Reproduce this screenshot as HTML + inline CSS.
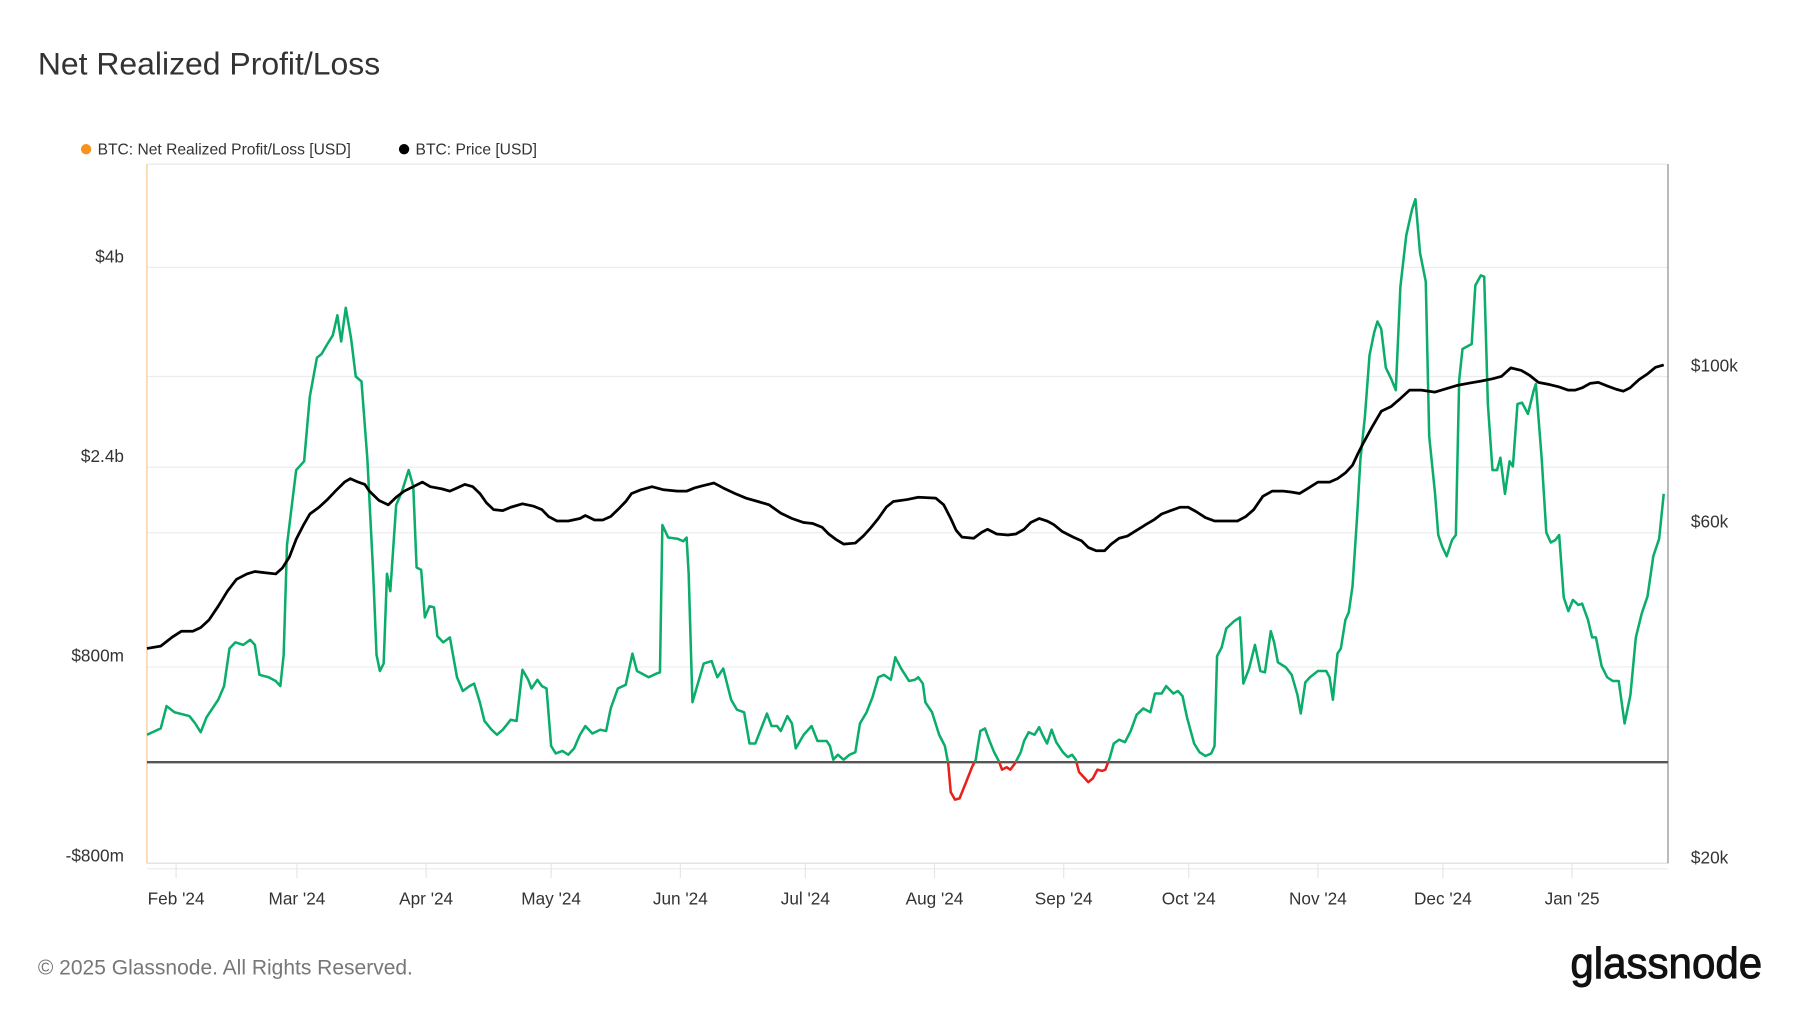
<!DOCTYPE html>
<html><head><meta charset="utf-8">
<style>
html,body{margin:0;padding:0;background:#fff;}
svg{display:block;font-family:"Liberation Sans",sans-serif;}
</style></head>
<body>
<svg id="chart" width="1800" height="1013" viewBox="0 0 1568 882.5" preserveAspectRatio="none" xmlns="http://www.w3.org/2000/svg">
<rect x="0" y="0" width="1568" height="883" fill="#fff"/>
<text x="33" y="65" font-size="27.8" fill="#333">Net Realized Profit/Loss</text>
<g>
 <circle cx="75" cy="130" r="4.5" fill="#f7931a"/>
 <text x="85" y="134.5" font-size="13.6" fill="#333">BTC: Net Realized Profit/Loss [USD]</text>
 <circle cx="352" cy="130" r="4.5" fill="#000"/>
 <text x="362" y="134.5" font-size="13.6" fill="#333">BTC: Price [USD]</text>
</g>
<g id="grid"></g>
<g id="axes"></g>
<g id="series"></g>
<text x="33" y="849" font-size="18.3" fill="#777">© 2025 Glassnode. All Rights Reserved.</text>
<text x="1368" y="852" font-size="38" font-weight="normal" fill="#111" stroke="#111" stroke-width="0.8" textLength="167" lengthAdjust="spacingAndGlyphs">glassnode</text>
</svg>
<script>
// ---- data ----
const nrplDays = [0,3.3,4.7,6.6,10.2,11.6,12.9,14.3,17.1,18.5,19.8,21.2,23.1,24.8,25.9,27,29.2,30.9,32,32.8,33.6,35.8,37.7,39.1,40.8,41.9,43.3,44.6,45.7,46.6,47.7,49,50.1,51.5,52.9,54.3,55.1,55.9,56.8,57.6,58.4,59.8,61.2,62.8,63.9,64.7,65.8,66.7,67.8,68.9,69.7,71.1,72.7,74.4,75.8,77.4,78.5,79.9,81,82.7,84,85.4,87.3,88.7,90.1,91.5,92.3,93.7,94.8,95.9,97,98.1,99.7,101.1,102.5,103.9,105.2,106.9,108.8,110.2,111.3,113,114.9,116.5,117.6,120.4,122.3,123.1,123.7,125.1,127.3,128.7,129.5,130,130.9,132.2,133.6,135.5,136.9,138.3,140.2,141.6,143.3,144.6,146,148.8,149.9,151.2,152.1,153.7,154.8,155.7,157.6,159.5,160.9,163.1,163.9,164.7,165.8,167.2,168.6,170,171.1,172.7,174.1,175.5,176.9,178.5,179.6,181,182.9,184.3,185.1,186.2,186.8,188.4,190.1,191.5,192.3,192.9,193.9,195,196.7,198,198.9,199.4,200,201.1,202.2,203.3,204.4,205.2,206.3,207.2,208.3,209.7,210.5,211.6,213,214.1,214.9,216,217.1,218.2,219.8,221,222,222.9,223.7,225.1,225.9,227,228.1,229.2,230,231.1,232,233.3,234.7,236.1,237.5,239.1,240.8,241.9,243.5,244.6,246.3,247.4,248.5,249.6,251.3,252.6,254,255.4,256.2,256.8,257.9,259,260.9,262.3,263.1,264.5,265.9,267.2,268.3,269.7,270.5,271.4,273.3,274.7,276.1,276.9,278,279.1,281,283,283.8,284.6,285.7,286.5,287.6,288.4,289.3,290.4,291.2,292.3,293.4,294.5,295.3,296.2,297.3,298.6,299.7,300.8,302.2,303.6,304.4,305.5,306.9,307.7,309.1,309.9,310.8,311.9,313.2,314.1,314.9,315.7,316.8,317.9,318.8,320.1,320.9,321.8,322.9,324,324.8,325.9,327,327.8,328.9,330,331.4,332.8,333.3,334.7,335.8,336.9,338,338.9,340,341.1,342.2,343.5,344.4,345.8,346.8,347.7,349.1,350.4,351.8,353.2,354.6,356,357.3,358.7,360.1,361.5,362.9,364];
const nrplValuesB = [.22,.27,.45,.40,.37,.31,.24,.36,.50,.61,.91,.96,.94,.98,.94,.70,.68,.65,.61,.86,1.74,2.34,2.41,2.93,3.24,3.27,3.35,3.42,3.58,3.37,3.64,3.39,3.09,3.05,2.43,1.51,.86,.73,.79,1.51,1.37,2.06,2.17,2.34,2.21,1.56,1.54,1.16,1.25,1.24,1.01,.96,1.00,.68,.57,.61,.63,.48,.33,.26,.22,.26,.34,.33,.74,.66,.59,.66,.61,.59,.13,.07,.09,.06,.11,.22,.29,.23,.26,.25,.43,.59,.62,.87,.73,.68,.71,.72,1.90,1.80,1.79,1.77,1.80,1.51,.48,.63,.79,.81,.68,.75,.50,.42,.40,.15,.15,.39,.29,.29,.25,.37,.31,.11,.22,.29,.17,.17,.13,.02,.06,.02,.06,.08,.31,.40,.52,.68,.70,.66,.84,.75,.65,.66,.68,.63,.48,.40,.22,.13,-.01,-.24,-.30,-.29,-.15,-.04,.02,.13,.25,.27,.17,.08,.01,-.06,-.04,-.06,-.01,.08,.17,.24,.22,.28,.22,.15,.26,.16,.08,.04,.06,.02,-.08,-.13,-.16,-.13,-.06,-.07,-.06,.04,.15,.18,.16,.25,.38,.43,.40,.55,.55,.61,.55,.57,.53,.36,.15,.08,.05,.07,.13,.85,.92,1.07,1.13,1.16,.63,.75,.94,.73,.72,1.05,.96,.80,.76,.70,.54,.39,.64,.68,.73,.73,.68,.50,.87,.91,1.14,1.20,1.41,1.97,2.43,2.77,3.26,3.44,3.53,3.47,3.16,3.07,2.98,3.81,4.22,4.43,4.51,4.08,3.85,2.61,2.16,1.82,1.73,1.65,1.78,1.82,3.06,3.31,3.33,3.35,3.82,3.90,3.89,2.87,2.34,2.34,2.44,2.15,2.41,2.37,2.87,2.88,2.79,2.98,3.03,2.43,1.84,1.76,1.78,1.82,1.32,1.21,1.30,1.26,1.27,1.14,1.00,1.00,.77,.68,.65,.65,.31,.54,1.00,1.19,1.33,1.65,1.79,2.15];
const priceDays = [0,3.3,6.1,8.3,11,12.9,14.9,17.1,19.3,21.5,24,25.9,28.1,30.9,32.5,34.2,35.8,37.5,39.1,41.3,43.3,45.2,47.4,48.8,50.7,52.3,53.4,55.7,57.9,59.8,61.7,63.9,66.1,68,70.8,72.7,74.4,76.3,78.2,79.9,81.5,83.2,85.4,87.3,90.1,92.8,94.8,96.4,98.4,101.1,103.9,105.2,107.4,109.4,111.3,113,114.9,116.3,118.5,121.2,124,127.3,129.5,131.4,133.3,136.1,138.3,141.1,143.8,146.6,149.3,152.1,154.8,157.6,159.8,162,163.6,165.3,167.2,170,171.9,173.6,175.5,177.4,179.1,182.4,185.1,189.3,191.2,192.9,194.2,195.6,198.4,200.3,201.7,203.9,206.6,208.5,210.5,212.1,214.1,216,217.6,219.6,222.3,224.3,225.9,227.8,229.8,231.4,233.3,235.3,237.5,239.7,241.6,243.5,245.7,247.9,249.9,251.8,254,256.2,259,261.7,263.7,265.6,267.8,270,272.7,274.7,276.6,278.8,281,283.8,285.7,287.6,289.3,290.6,292,293.9,296.2,298.6,300.8,303,305.8,309.1,311.9,314.6,317.4,320.1,322.9,325.1,327.3,329.8,331.7,333.9,336.7,338.9,341.1,342.7,344.4,346.3,348.3,350.4,352.6,354.3,355.9,358.1,360.1,362,364];
const priceK = [39.9,40.2,41.4,42.2,42.2,42.7,43.8,45.8,48.1,50.0,50.9,51.3,51.1,50.9,51.9,53.8,57.0,59.6,61.9,63.3,64.9,66.7,68.7,69.5,68.7,68.2,66.7,64.7,63.8,65.4,66.7,67.7,68.7,67.7,67.2,66.7,67.4,68.2,67.7,66.2,64.2,62.8,62.6,63.3,64.0,63.5,62.8,61.4,60.5,60.5,61.0,61.6,60.7,60.7,61.4,62.8,64.5,66.2,67.0,67.7,67.0,66.7,66.7,67.4,67.9,68.5,67.4,66.2,65.2,64.5,63.8,62.1,61.0,60.2,60.0,59.3,58.0,57.0,56.1,56.3,57.6,59.1,61.0,63.3,64.5,64.9,65.4,65.2,63.8,61.0,58.7,57.4,57.2,58.3,58.9,58.0,57.8,58.0,58.9,60.2,61.0,60.5,59.8,58.5,57.4,56.7,55.5,54.9,54.9,56.1,57.2,57.6,58.7,59.8,60.7,61.9,62.6,63.3,63.3,62.4,61.2,60.5,60.5,60.5,61.4,62.8,65.6,66.7,66.7,66.5,66.2,67.4,68.7,68.7,69.5,70.8,72.6,75.4,78.3,82.1,86.6,88.0,90.3,92.8,92.8,92.2,93.3,94.3,95.0,95.6,96.3,97.1,99.8,99.0,97.5,95.2,94.5,93.8,92.8,92.8,93.5,94.9,95.2,94.1,93.1,92.5,93.5,96.1,97.9,100.0,100.8];
const leftTickValuesB = [4, 2.4, 0.8, -0.8];
const leftTickLabels = ["$4b", "$2.4b", "$800m", "-$800m"];
const rightTickValuesK = [100, 60, 20];
const rightTickLabels = ["$100k", "$60k", "$20k"];
const monthLabels = ["Feb '24","Mar '24","Apr '24","May '24","Jun '24","Jul '24","Aug '24","Sep '24","Oct '24","Nov '24","Dec '24","Jan '25"];
const monthStartDays = [7,36,67,97,128,158,189,220,250,281,311,342];

// ---- layout / scales ----
const NS = "http://www.w3.org/2000/svg";
const L = 128, R = 1453, T = 143, B = 752;
const X0 = 128, PXD = 3.63;
const ZERO = 664, PXB = 108.75;
const x = d => X0 + d * PXD;
const yL = v => ZERO - v * PXB;
const yR = k => 320 - 266.5 * Math.log(k / 100);
function mk(tag, attrs, parent) {
  const e = document.createElementNS(NS, tag);
  for (const k in attrs) e.setAttribute(k, attrs[k]);
  parent.appendChild(e);
  return e;
}
const svg = document.getElementById('chart');
const grid = document.getElementById('grid');
const axes = document.getElementById('axes');
const series = document.getElementById('series');

leftTickValuesB.forEach((v, i) => {
  const yy = yL(v) + 4;
  if (yy < B - 2) {
    const g = mk('line', {x1: L, x2: R, y1: yy, y2: yy, stroke: '#ececec', 'stroke-width': 1}, grid);
    
    
  }
  const t = mk('text', {x: 108, y: yL(v) - 0.5, 'font-size': 15, fill: '#333', 'text-anchor': 'end'}, axes);
  t.textContent = leftTickLabels[i];
  
  
});
rightTickValuesK.forEach((k, i) => {
  const yy = yR(k);
  if (yy < B - 2) {
    const g = mk('line', {x1: L, x2: R, y1: yy + 8, y2: yy + 8, stroke: '#ececec', 'stroke-width': 1}, grid);
    
    
  }
  const t = mk('text', {x: 1473, y: yy + 3.5, 'font-size': 15, fill: '#333'}, axes);
  t.textContent = rightTickLabels[i];
  
  
});
let e;
e = mk('line', {x1: L, x2: R, y1: T, y2: T, stroke: '#e6e6e6', 'stroke-width': 1}, axes);
 
e = mk('line', {x1: L, x2: R, y1: B, y2: B, stroke: '#dcdcdc', 'stroke-width': 1}, axes);
 
e = mk('line', {x1: L, x2: L, y1: T, y2: B, stroke: '#f5c48a', 'stroke-width': 1}, axes);
 
e = mk('line', {x1: R, x2: R, y1: T, y2: B, stroke: '#888', 'stroke-width': 1}, axes);
 
monthLabels.forEach((m, i) => {
  const xx = x(monthStartDays[i]);
  const tk = mk('line', {x1: xx, x2: xx, y1: B, y2: B + 13, stroke: '#e6e6e6', 'stroke-width': 1}, axes);
  
  
  const t = mk('text', {x: xx, y: 788, 'font-size': 15, fill: '#333', 'text-anchor': 'middle'}, axes);
  t.textContent = m;
  
  
});
e = mk('line', {x1: L, x2: R, y1: ZERO, y2: ZERO, stroke: '#555', 'stroke-width': 2}, series);
 

const defs = mk('defs', {}, svg);
const cpA = mk('clipPath', {id: 'above'}, defs);
mk('rect', {x: L, y: 0, width: R - L, height: ZERO}, cpA);
const cpB = mk('clipPath', {id: 'below'}, defs);
mk('rect', {x: L, y: ZERO, width: R - L, height: 300}, cpB);

const nrplPts = nrplDays.map((d, i) => x(d).toFixed(1) + ',' + yL(nrplValuesB[i]).toFixed(1)).join(' ');
const pos = mk('polyline', {points: nrplPts, fill: 'none', stroke: '#0aad6a', 'stroke-width': 2.2, 'stroke-linejoin': 'round', 'clip-path': 'url(#above)'}, series);


const neg = mk('polyline', {points: nrplPts, fill: 'none', stroke: '#e8201c', 'stroke-width': 2.2, 'stroke-linejoin': 'round', 'clip-path': 'url(#below)'}, series);



const pricePts = priceDays.map((d, i) => x(d).toFixed(1) + ',' + yR(priceK[i]).toFixed(1)).join(' ');
const pl = mk('polyline', {points: pricePts, fill: 'none', stroke: '#000', 'stroke-width': 2.4, 'stroke-linejoin': 'round'}, series);


</script>
</body></html>
